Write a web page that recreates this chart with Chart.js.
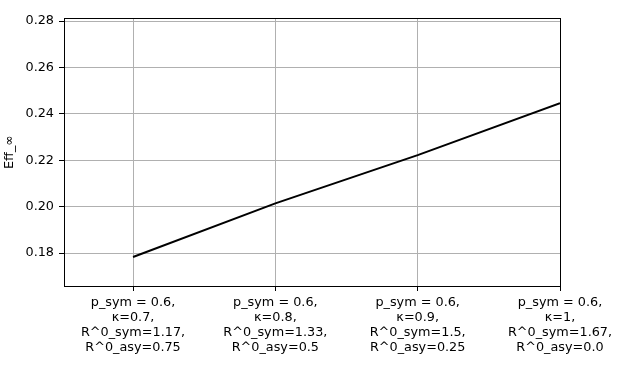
<!DOCTYPE html>
<html>
<head>
<meta charset="utf-8">
<script src="https://cdn.jsdelivr.net/npm/chart.js@4"></script>
<style>
  body { margin: 0; background: #fff; }
  #wrap { width: 619px; height: 370px; }
</style>
</head>
<body>
<div id="wrap"><canvas id="chart" width="619" height="370"></canvas></div>
<script>
"use strict";
// categories (one per x tick, multi-line labels)
const categories = [
  ["p_sym = 0.6,", "κ=0.7,", "R^0_sym=1.17,", "R^0_asy=0.75"],
  ["p_sym = 0.6,", "κ=0.8,", "R^0_sym=1.33,", "R^0_asy=0.5"],
  ["p_sym = 0.6,", "κ=0.9,", "R^0_sym=1.5,", "R^0_asy=0.25"],
  ["p_sym = 0.6,", "κ=1,", "R^0_sym=1.67,", "R^0_asy=0.0"],
];
const effValues = [0.1783, 0.2014, 0.2222, 0.2446];
const yTicks = [0.18, 0.2, 0.22, 0.24, 0.26, 0.28];

const font = { family: "DejaVu Sans", size: 12.8, lineHeight: 1.17 };

// draw the full box around the plot area
const frame = {
  id: "frame",
  afterDatasetsDraw(chart) {
    const a = chart.chartArea;
    const ctx = chart.ctx;
    ctx.save();
    ctx.strokeStyle = "#000";
    ctx.lineWidth = 1;
    ctx.strokeRect(Math.round(a.left) + 0.5, Math.round(a.top) + 0.5,
      Math.round(a.right - a.left), Math.round(a.bottom - a.top));
    ctx.restore();
  },
};

const cxt = document.querySelector("#chart").getContext("2d");
new Chart(cxt, {
  type: "line",
  data: {
    datasets: [
      {
        label: "Eff_∞",
        data: effValues.map((v, i) => ({ x: i, y: v })),
        borderColor: "#000",
        borderWidth: 2,
        pointRadius: 0,
        tension: 0,
      },
    ],
  },
  options: {
    responsive: false,
    animation: false,
    layout: { padding: { top: 18, right: 59, left: 0, bottom: 0 } },
    plugins: { legend: { display: false }, tooltip: { enabled: false } },
    scales: {
      x: {
        type: "linear",
        min: -0.485,
        max: 3,
        afterBuildTicks: (s) => {
          s.ticks = categories.map((c, i) => ({ value: i }));
        },
        afterFit: (s) => {
          s.height = 84;
          s.paddingLeft = 0;
          s.paddingRight = 0;
        },
        ticks: {
          autoSkip: false,
          maxRotation: 0,
          color: "#000",
          font: font,
          padding: 4,
          callback: (v) => categories[v],
        },
        grid: { color: "#b0b0b0", lineWidth: 1, tickLength: 5, tickColor: "#000" },
        border: { display: false },
      },
      y: {
        min: 0.1658,
        max: 0.2813,
        afterBuildTicks: (s) => {
          s.ticks = yTicks.map((v) => ({ value: v }));
        },
        afterFit: (s) => {
          s.width = 64;
          s.paddingTop = 0;
          s.paddingBottom = 0;
        },
        ticks: {
          color: "#000",
          font: font,
          padding: 5,
          callback: (v) => v.toFixed(2),
        },
        grid: { color: "#b0b0b0", lineWidth: 1, tickLength: 5, tickColor: "#000" },
        border: { display: false },
        title: {
          display: true,
          text: "Eff_∞",
          color: "#000",
          font: font,
          padding: { top: 2, bottom: 2 },
        },
      },
    },
  },
  plugins: [frame],
});
</script>
</body>
</html>
